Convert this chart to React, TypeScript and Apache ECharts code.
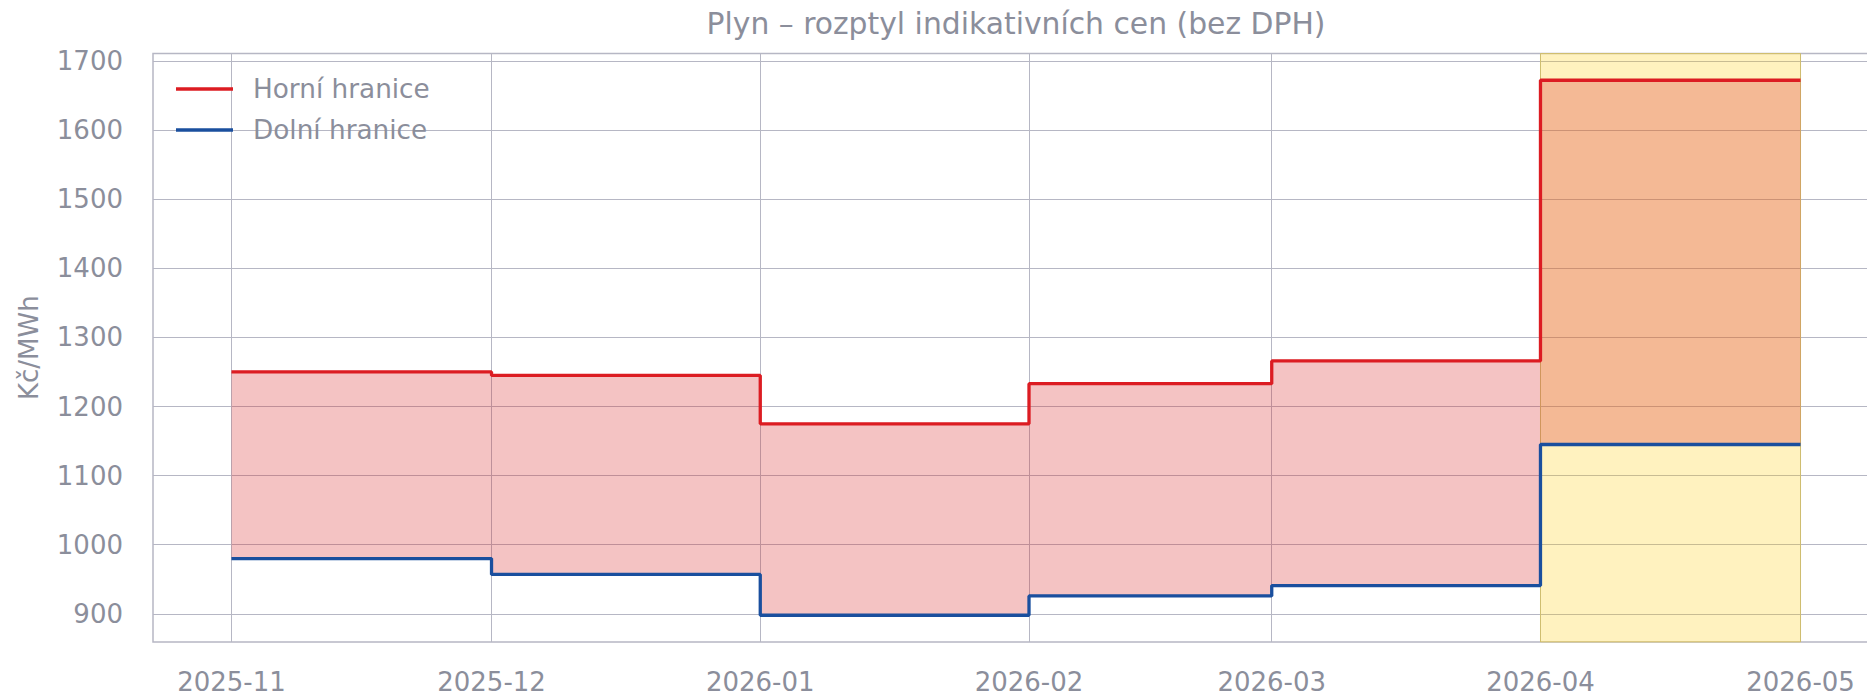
import React, { useEffect, useRef } from "react";
import * as echarts from "echarts";

const monthStarts = ["2025-11-01", "2025-12-01", "2026-01-01", "2026-02-01", "2026-03-01", "2026-04-01", "2026-05-01"];
const tickLabels = ["2025-11", "2025-12", "2026-01", "2026-02", "2026-03", "2026-04", "2026-05"];
const upperValues = [1250, 1245, 1175, 1233, 1266, 1672];
const lowerValues = [980, 957, 898, 926, 941, 1145];
const yTicks = [900, 1000, 1100, 1200, 1300, 1400, 1500, 1600, 1700];
const highlightStart = "2026-04-01";
const highlightEnd = "2026-05-01";

const TITLE = "Plyn – rozptyl indikativních cen (bez DPH)";
const UPPER_NAME = "Horní hranice";
const LOWER_NAME = "Dolní hranice";
const Y_NAME = "Kč/MWh";

const ts = (d: string) => Date.parse(d + "T00:00:00Z");

export default function App() {
  const ref = useRef<HTMLDivElement>(null);
  useEffect(() => {
    if (!ref.current) return;
    const chart = echarts.init(ref.current, null, { renderer: "svg" });
    const xs = monthStarts.map(ts);
    const up = [...upperValues, upperValues[upperValues.length - 1]];
    const lo = [...lowerValues, lowerValues[lowerValues.length - 1]];
    const upperData = xs.map((x, i) => [x, up[i]]);
    const lowerData = xs.map((x, i) => [x, lo[i]]);
    const bandData = upperValues.map((u, i) => [xs[i], xs[i + 1], lowerValues[i], u]);

    const xSpan = xs[xs.length - 1] - xs[0];
    const xMin = xs[0] - xSpan * 0.05;
    const xMax = xs[xs.length - 1] + xSpan * 0.05;
    const all = [...up, ...lo];
    const dMin = Math.min(...all);
    const dMax = Math.max(...all);
    const ySpan = dMax - dMin;
    const yMin = dMin - ySpan * 0.05;
    const yMax = dMax + ySpan * 0.05;

    const labelFor = (v: number) => {
      const i = xs.findIndex((x) => Math.abs(x - v) < 1000);
      return i >= 0 ? tickLabels[i] : "";
    };

    const gray = "#8b8e9b";
    const gridColor = "#b6b7c4";
    const font = "DejaVu Sans";

    chart.setOption({
      animation: false,
      title: {
        text: TITLE,
        left: 1016,
        textAlign: "center",
        top: 8,
        padding: 0,
        textStyle: { fontFamily: font, fontSize: 29.8, fontWeight: "normal", color: gray },
      },
      legend: {
        orient: "vertical",
        left: 176,
        top: 76,
        padding: 0,
        icon: "rect",
        itemWidth: 57,
        itemHeight: 3.4,
        itemGap: 15,
        data: [UPPER_NAME, LOWER_NAME],
        textStyle: {
          fontFamily: font,
          fontSize: 26.3,
          color: gray,
          lineHeight: 26,
          padding: [0, 0, 0, 15],
        },
      },
      grid: {
        left: 153,
        top: 53.5,
        width: 1726,
        height: 588.5,
        outerBoundsMode: "none",
        containLabel: false,
        show: true,
        borderColor: gridColor,
        borderWidth: 1.5,
        backgroundColor: "transparent",
      },
      xAxis: {
        type: "value",
        min: xMin,
        max: xMax,
        axisLine: { show: false },
        axisTick: { show: false, customValues: xs },
        splitLine: { show: true, lineStyle: { color: gridColor, width: 1 } },
        axisLabel: {
          customValues: xs,
          margin: 27,
          fontFamily: font,
          fontSize: 26,
          color: gray,
          formatter: (v: number) => labelFor(v),
        },
      },
      yAxis: {
        type: "value",
        min: yMin,
        max: yMax,
        name: Y_NAME,
        nameLocation: "middle",
        nameRotate: 90,
        nameGap: 111,
        nameTextStyle: { fontFamily: font, fontSize: 26, color: gray },
        axisLine: { show: false },
        axisTick: { show: false, customValues: yTicks },
        splitLine: { show: true, lineStyle: { color: gridColor, width: 1 } },
        axisLabel: {
          customValues: yTicks,
          margin: 30,
          fontFamily: font,
          fontSize: 26,
          color: gray,
          formatter: (v: number) => String(Math.round(v)),
        },
      },
      series: [
        {
          name: "highlight",
          type: "line",
          data: lowerData,
          symbol: "none",
          silent: true,
          z: 1,
          lineStyle: { opacity: 0 },
          markArea: {
            silent: true,
            itemStyle: {
              color: "rgba(255,205,0,0.25)",
              borderColor: "rgba(240,200,0,0.35)",
              borderWidth: 1,
            },
            data: [[{ xAxis: ts(highlightStart) }, { xAxis: ts(highlightEnd) }]],
          },
        },
        {
          name: "band",
          type: "custom",
          silent: true,
          z: 2,
          data: bandData,
          encode: { x: [0, 1], y: [2, 3] },
          renderItem: (params: any, api: any) => {
            const p1 = api.coord([api.value(0), api.value(2)]);
            const p2 = api.coord([api.value(1), api.value(3)]);
            return {
              type: "rect",
              shape: { x: p1[0], y: p2[1], width: p2[0] - p1[0], height: p1[1] - p2[1] },
              style: { fill: "rgba(214,39,40,0.28)" },
            };
          },
        },
        {
          name: UPPER_NAME,
          type: "line",
          step: "end",
          data: upperData,
          symbol: "none",
          z: 3,
          color: "#dc1c22",
          lineStyle: { color: "#dc1c22", width: 3.3 },
        },
        {
          name: LOWER_NAME,
          type: "line",
          step: "end",
          data: lowerData,
          symbol: "none",
          z: 3,
          color: "#1a4f9e",
          lineStyle: { color: "#1a4f9e", width: 3.3 },
        },
      ],
    });
    return () => chart.dispose();
  }, []);
  return (
    <div
      ref={ref}
      style={{ position: "absolute", left: 0, top: 0, width: 1867, height: 696 }}
    />
  );
}
